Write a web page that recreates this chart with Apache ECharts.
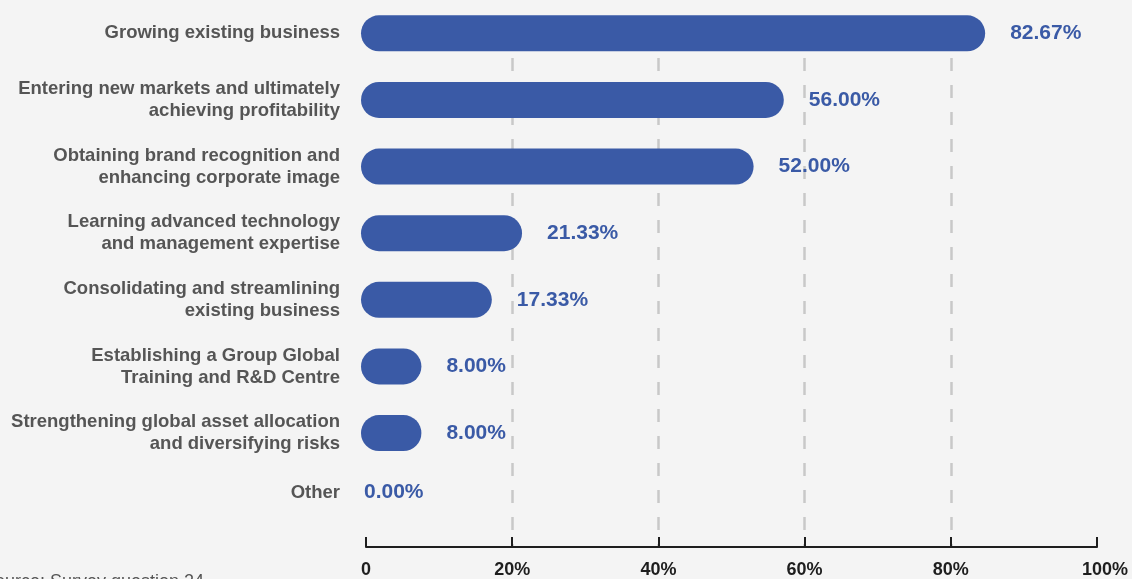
<!DOCTYPE html>
<html>
<head>
<meta charset="utf-8">
<script src="https://cdn.jsdelivr.net/npm/echarts@6/dist/echarts.min.js"></script>
<style>
  html, body { margin: 0; padding: 0; background: #f4f4f4; }
  #chart { width: 1132px; height: 579px; }
</style>
</head>
<body>
<div id="chart"></div>
<script>
// Survey responses: purposes of going global (% of respondents)
const categories = [
  'Growing existing business',
  'Entering new markets and ultimately\nachieving profitability',
  'Obtaining brand recognition and\nenhancing corporate image',
  'Learning advanced technology\nand management expertise',
  'Consolidating and streamlining\nexisting business',
  'Establishing a Group Global\nTraining and R&D Centre',
  'Strengthening global asset allocation\nand diversifying risks',
  'Other'
];
const shares = [82.67, 56.00, 52.00, 21.33, 17.33, 8.00, 8.00, 0.00];
const tickValues = [0, 20, 40, 60, 80, 100];

const BLUE = '#3a5aa6';
const FONT = '"Liberation Sans", Arial, Helvetica, sans-serif';

const barData = shares.map(function (v, i) {
  const item = { value: v };
  if (v === 0) {
    item.label = { distance: 3, offset: [0, -7] };
  }
  return item;
});

const chart = echarts.init(document.getElementById('chart'), null, { renderer: 'canvas' });

chart.setOption({
  backgroundColor: '#f4f4f4',
  animation: false,
  grid: [
    // bars
    { left: 361, right: 16, top: 0, height: 533, containLabel: false },
    // percentage scale with dashed guides
    { left: 366, right: 35, top: 58, bottom: 32, containLabel: false }
  ],
  xAxis: [
    { gridIndex: 0, type: 'value', min: 0, max: 100, show: false },
    {
      gridIndex: 1, type: 'value', min: 0, max: 100, interval: 20,
      axisLine: { show: true, lineStyle: { color: '#1e1e1e', width: 2 } },
      axisTick: { show: true, inside: true, length: 10, lineStyle: { color: '#1e1e1e', width: 2 } },
      axisLabel: {
        margin: 14,
        color: '#1e1e1e',
        fontFamily: FONT,
        fontWeight: 'bold',
        fontSize: 18,
        formatter: function (v) {
          if (v === 0) return '0';
          if (v === 100) return '{end|100%}';
          return v + '%';
        },
        rich: {
          end: { fontFamily: FONT, fontWeight: 'bold', fontSize: 18, color: '#1e1e1e', padding: [0, 0, 0, 16] }
        }
      },
      splitLine: {
        show: true,
        showMinLine: false,
        showMaxLine: false,
        lineStyle: { color: '#c8c8c8', width: 2.5, type: [13, 14] }
      }
    }
  ],
  yAxis: [
    {
      gridIndex: 0, type: 'category', data: categories, inverse: true,
      axisLine: { show: false },
      axisTick: { show: false },
      splitLine: { show: false },
      axisLabel: {
        margin: 21,
        color: '#555555',
        fontFamily: FONT,
        fontWeight: 'bold',
        fontSize: 18.5,
        lineHeight: 22,
        align: 'right',
        formatter: function (v) {
          return v === 'Other' ? '{o|' + v + '}' : v;
        },
        rich: {
          o: { fontFamily: FONT, fontWeight: 'bold', fontSize: 18.5, color: '#555555', padding: [0, 0, 14, 0] }
        }
      }
    },
    { gridIndex: 1, type: 'value', show: false }
  ],
  series: [
    {
      type: 'bar',
      xAxisIndex: 0,
      yAxisIndex: 0,
      data: barData,
      barWidth: 36,
      z: 5,
      itemStyle: { color: BLUE, borderRadius: 18 },
      label: {
        show: true,
        position: 'right',
        distance: 25,
        color: BLUE,
        fontFamily: FONT,
        fontWeight: 'bold',
        fontSize: 21,
        formatter: function (p) { return p.value.toFixed(2) + '%'; }
      }
    }
  ],
  graphic: [
    {
      type: 'text',
      left: -17,
      top: 573,
      style: {
        text: 'Source: Survey question 24',
        fill: '#555555',
        font: '18px ' + FONT
      }
    }
  ]
});
</script>
</body>
</html>
